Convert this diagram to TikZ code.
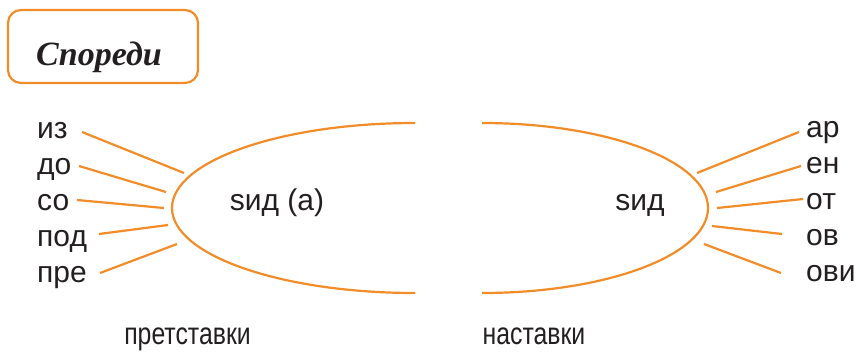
\documentclass[tikz,border=0pt]{standalone}
\usepackage{fontspec}
\setmainfont{Liberation Sans}
\newfontfamily\titlefont[Script=Cyrillic,Language=Serbian]{Liberation Serif}
\usetikzlibrary{positioning}
\definecolor{orng}{RGB}{242,140,40}
\definecolor{ink}{RGB}{35,31,32}
\tikzset{
  conn/.style={draw=orng, line width=2.2pt},
  lbl/.style={inner sep=0pt, text=ink, font=\fontsize{30}{32}\selectfont},
  lblL/.style={lbl, anchor=base west},
  lblR/.style={lbl, anchor=base west},
  capt/.style={lbl, anchor=base, font=\fontsize{31}{33}\selectfont},
}
\begin{document}
\begin{tikzpicture}[x=1pt,y=-1pt]
\useasboundingbox (0,0) rectangle (860,357);
% title box
\node[draw=orng, line width=2.2pt, rounded corners=13pt, minimum width=190pt, minimum height=73pt, inner sep=0pt] (box) at (103,46.5) {};
\node[inner sep=0pt, anchor=base, text=ink, font=\titlefont\bfseries\itshape\fontsize{34}{36}\selectfont] (title) at (99,65) {Спореди};
% ellipse halves
\draw[conn] (415,123) coordinate (lt) arc[start angle=-90, end angle=-270, x radius=243, y radius=85] coordinate (lb);
\draw[conn] (482,123) coordinate (rt) arc[start angle=-90, end angle=90, x radius=226, y radius=85] coordinate (rb);
% centre labels
\node[lbl, anchor=base] (rootL) at (277,210) {ѕид (а)};
\node[lbl, anchor=base] (rootR) at (640,210) {ѕид};
% left labels
\node[lblL] (iz) at (37,138) {из};
\node[lblL] (do) at (37,174) {до};
\node[lblL] (so) at (37,210) {со};
\node[lblL] (pod) at (37,246) {под};
\node[lblL] (pre) at (37,282) {пре};
% right labels
\node[lblR] (ar) at (806,137) {ар};
\node[lblR] (en) at (806,173) {ен};
\node[lblR] (ot) at (806,209) {от};
\node[lblR] (ov) at (806,245) {ов};
\node[lblR] (ovi) at (806,281) {ови};
% connector end points
\coordinate (iz1) at (82,132);  \coordinate (iz2) at (184,173);
\coordinate (do1) at (79,166);  \coordinate (do2) at (166,192);
\coordinate (so1) at (77,200);  \coordinate (so2) at (164,208);
\coordinate (pod1) at (99,234); \coordinate (pod2) at (168,225);
\coordinate (pre1) at (100,273);\coordinate (pre2) at (177,244);
\coordinate (ar1) at (799,132); \coordinate (ar2) at (697,173);
\coordinate (en1) at (801,166); \coordinate (en2) at (716,192);
\coordinate (ot1) at (803,199); \coordinate (ot2) at (717,208);
\coordinate (ov1) at (782,234); \coordinate (ov2) at (712,226);
\coordinate (ovi1) at (781,273);\coordinate (ovi2) at (704,244);
\foreach \a in {iz,do,so,pod,pre,ar,en,ot,ov,ovi}{
  \draw[conn] (\a1) -- (\a2);
}
% captions
\node[capt] (pref) at (187.5,344) {\scalebox{0.8}[1]{претставки}};
\node[capt] (suf) at (534,344) {\scalebox{0.8}[1]{наставки}};
\end{tikzpicture}
\end{document}
